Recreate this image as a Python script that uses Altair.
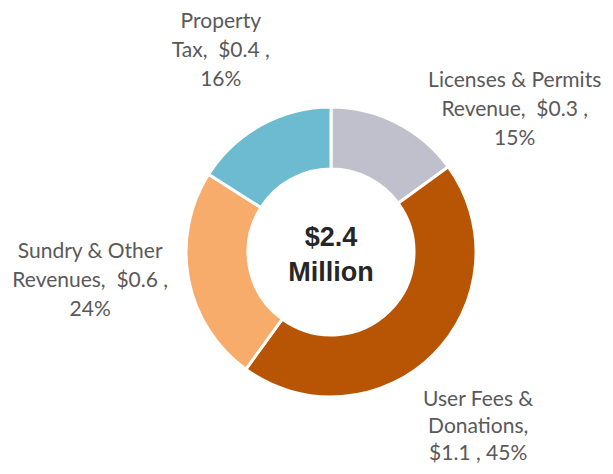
import altair as alt
import pandas as pd
import math

categories = ["Licenses & Permits Revenue", "User Fees & Donations", "Sundry & Other Revenues", "Property Tax"]
amounts = ["$0.3", "$1.1", "$0.6", "$0.4"]
percents = [15, 45, 24, 16]
label_lines = [
    "Licenses & Permits\nRevenue,\u00a0 $0.3 ,\n15%",
    "User Fees &\nDonations,\n$1.1 , 45%",
    "Sundry & Other\nRevenues,\u00a0 $0.6 ,\n24%",
    "Property\nTax,\u00a0 $0.4 ,\n16%",
]
colors = ["#c0bfcc", "#b85504", "#f8ac6b", "#6dbbd0"]
center_text = ["$2.4", "Million"]

df = pd.DataFrame({
    "cat": categories,
    "amount": amounts,
    "pct": percents,
    "label": label_lines,
    "idx": list(range(len(categories))),
})

CX, CY = 323, 244
theta_scale = alt.Scale(domain=[0, 100], range=[0, 2 * math.pi])

arcs = alt.Chart(df).mark_arc(innerRadius=83, outerRadius=145, stroke="white", strokeWidth=3).encode(
    theta=alt.Theta("pct:Q", stack=True, scale=theta_scale),
    order=alt.Order("idx:Q"),
    color=alt.Color("cat:N", scale=alt.Scale(domain=categories, range=colors), legend=None),
    x=alt.value(CX),
    y=alt.value(CY),
)

# (dx, dy, lineHeight) per label
offsets = {
    categories[0]: (77, 38, 29),
    categories[1]: (-19, -18, 27),
    categories[2]: (-10, -44, 29),
    categories[3]: (3, -24, 29),
}

text_base = alt.Chart(df).transform_window(
    cum="sum(pct)", sort=[alt.SortField("idx")]
).transform_calculate(
    mid="datum.cum - datum.pct / 2"
)

text_layers = []
for c in categories:
    dx, dy, lh = offsets[c]
    text_layers.append(
        text_base.transform_filter(alt.datum.cat == c)
        .mark_text(radius=235, dx=dx, dy=dy, font="Lato", fontSize=21, color="#595959",
                   lineBreak="\n", lineHeight=lh, align="center", baseline="middle")
        .encode(
            theta=alt.Theta("mid:Q", stack=False, scale=theta_scale),
            text="label:N",
            x=alt.value(CX),
            y=alt.value(CY),
        )
    )

center = alt.Chart(pd.DataFrame({"t": ["\n".join(center_text)]})).mark_text(
    font="Liberation Sans", fontSize=27, fontWeight="bold", color="#262626",
    lineBreak="\n", lineHeight=35, align="center", baseline="middle", dy=-14
).encode(text="t:N", x=alt.value(CX), y=alt.value(CY))

chart = alt.layer(arcs, *text_layers, center).properties(
    width=597, height=458, padding=0, autosize=alt.AutoSizeParams(type="none")
).configure_view(stroke=None)

chart.save("out.html", embed_options={"renderer": "svg", "actions": False})
